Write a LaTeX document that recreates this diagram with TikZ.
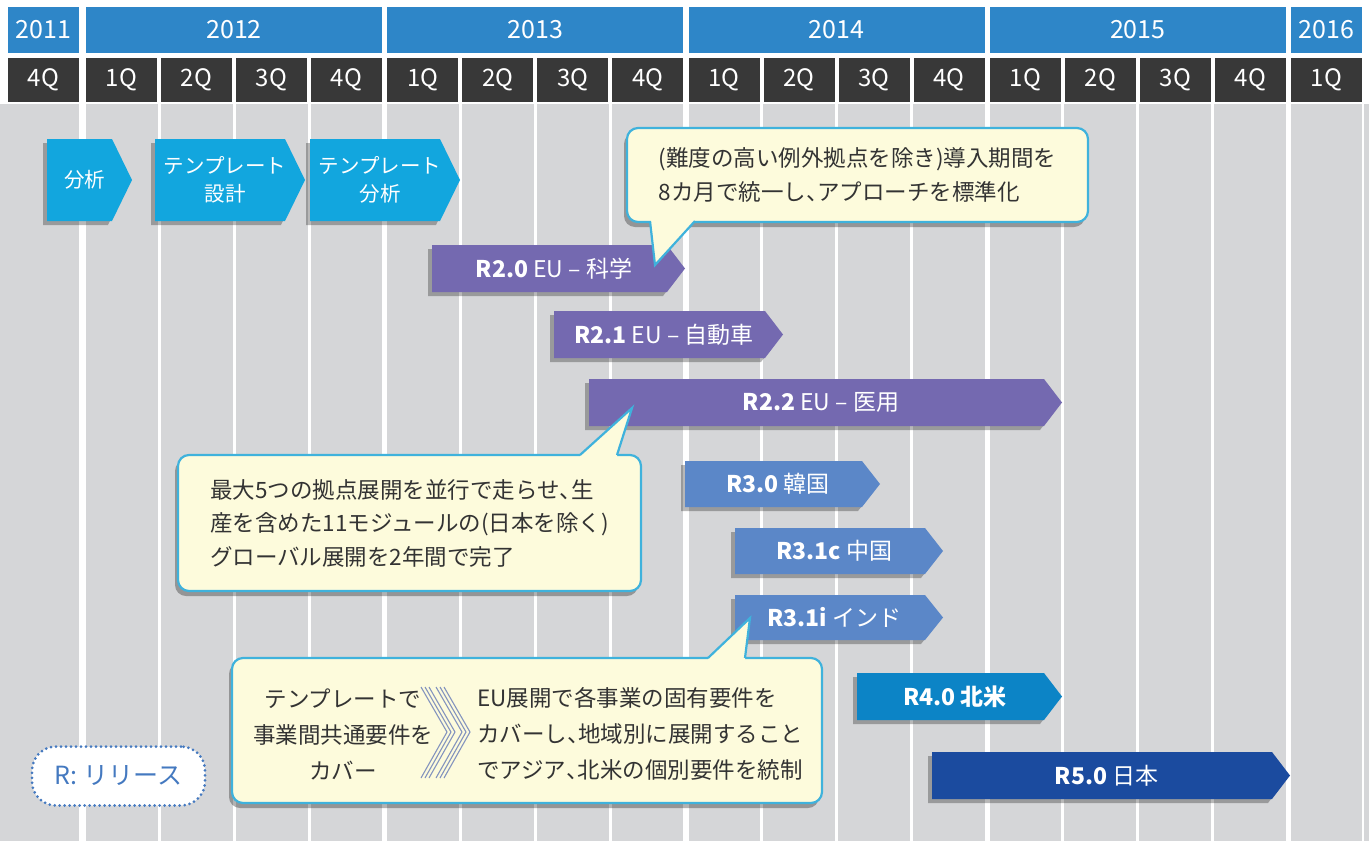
\documentclass[tikz,border=0pt]{standalone}
\usepackage{fontspec}
\setmainfont{Noto Sans CJK JP}
\usetikzlibrary{shadows}
\definecolor{yearblue}{HTML}{2E86C8}
\definecolor{qdark}{HTML}{383838}
\definecolor{bggray}{HTML}{D5D6D8}
\definecolor{cyanarr}{HTML}{12A6DE}
\definecolor{purparr}{HTML}{7469B0}
\definecolor{bluearr}{HTML}{5B87C8}
\definecolor{naarr}{HTML}{0C84C6}
\definecolor{jparr}{HTML}{1B4B9F}
\definecolor{cfill}{HTML}{FDFBDC}
\definecolor{cborder}{HTML}{3FB2DC}
\definecolor{ctext}{HTML}{333333}
\definecolor{legblue}{HTML}{4479C0}
\definecolor{chevline}{HTML}{8494BE}

\newcommand\halfcomma{{\addfontfeature{RawFeature=+halt}、}}

\newcommand\chevbox[9]{%
  \fill[#7, drop shadow={shadow xshift=-4pt, shadow yshift=-4pt, opacity=0.28, fill=black}]
    (#2,#4) -- ({#3-#6},#4) -- (#3,{(#4+#5)/2}) -- ({#3-#6},#5) -- (#2,#5) -- cycle;
  \node[#9] (#1) at ({(#2+#3)/2-#6/4},{(#4+#5)/2}) {#8};
}

\begin{document}
\begin{tikzpicture}[x=1pt,y=-1pt,
  yearbox/.style={fill=yearblue, text=white, minimum height=46pt, inner sep=0pt,
    font=\fontsize{25}{28}\selectfont},
  qbox/.style={fill=qdark, text=white, minimum height=44pt, minimum width=71pt, inner sep=0pt,
    font=\fontsize{24}{27}\selectfont},
  arrtext/.style={text=white, align=center, inner sep=0pt,
    font=\fontsize{23}{27}\selectfont},
  phasetext/.style={text=white, align=center, inner sep=0pt,
    font=\fontsize{20.5}{28}\selectfont},
  callout/.style={fill=cfill, draw=cborder, line width=2.2pt, rounded corners=11pt,
    text=ctext, align=left, inner sep=0pt, font=\fontsize{22.5}{33.5}\selectfont,
    drop shadow={shadow xshift=-3pt, shadow yshift=-5pt, opacity=0.3, fill=black}},
  ptrfill/.style={fill=cfill},
  ptrline/.style={draw=cborder, line width=2.2pt, line join=miter},
  ctxt/.style={text=ctext, inner sep=0pt, font=\fontsize{22.5}{36}\selectfont},
  legend/.style={fill=white, draw=legblue, line width=3pt, dash pattern=on 0pt off 5pt,
    line cap=round, rounded corners=24pt, minimum width=173pt, minimum height=59pt,
    text=legblue, font=\fontsize{25}{28}\selectfont},
  sep/.style={fill=white}
]
\useasboundingbox (0,0) rectangle (1369,841);
\fill[white] (0,0) rectangle (1369,841);
\fill[bggray] (0,104) rectangle (1369,841);

% separators in the gray area
\fill[sep] (79,104) rectangle (86,841);
\foreach \k in {0,1,2,3} {
  \foreach \q in {0,1,2} {
    \fill[sep] ({86+301.25*\k+75*\q+71.5},104) rectangle ({86+301.25*\k+75*\q+74.5},841);
  }
  \fill[sep] ({86+301.25*\k+296},104) rectangle ({86+301.25*\k+301.25},841);
}
\fill[sep] (1362,104) rectangle (1364,841);

% header
\node[yearbox, minimum width=71pt] (y2011) at (43.5,30) {2011};
\foreach \yr [count=\k from 0] in {2012,2013,2014,2015} {
  \node[yearbox, minimum width=296pt] (y\yr) at ({86+301.25*\k+148},30) {\yr};
  \foreach \q [count=\n from 1] in {0,1,2,3} {
    \node[qbox] (q\yr-\n) at ({86+301.25*\k+75*\q+35.5},80) {\n Q};
  }
}
\node[yearbox, minimum width=71pt] (y2016) at (1326.5,30) {2016};
\node[qbox] (q2011-4) at (43.5,80) {4Q};
\node[qbox] (q2016-1) at (1326.5,80) {1Q};

% phase arrows
\chevbox{a1}{47}{132}{139}{221}{20}{cyanarr}{分析}{phasetext}
\chevbox{a2}{155}{305}{139}{221}{20}{cyanarr}{テンプレート\\設計}{phasetext}
\chevbox{a3}{310}{460}{139}{221}{20}{cyanarr}{テンプレート\\分析}{phasetext}

% releases
\chevbox{r20}{432}{685}{245}{292}{18}{purparr}{\textbf{R2.0} EU – 科学}{arrtext}
\chevbox{r21}{554}{783}{311}{358}{18}{purparr}{\textbf{R2.1} EU – 自動車}{arrtext}
\chevbox{r22}{589}{1062}{379}{426}{18}{purparr}{\textbf{R2.2} EU – 医用}{arrtext}
\chevbox{r30}{685}{880}{461}{507}{18}{bluearr}{\textbf{R3.0} 韓国}{arrtext}
\chevbox{r31c}{735}{943}{528}{574}{18}{bluearr}{\textbf{R3.1c} 中国}{arrtext}
\chevbox{r31i}{735}{943}{595}{640}{18}{bluearr}{\textbf{R3.1i} インド}{arrtext}
\chevbox{r40}{857}{1062}{673}{720}{18}{naarr}{\textbf{R4.0 北米}}{arrtext}
\chevbox{r50}{932}{1290}{752}{799}{18}{jparr}{\textbf{R5.0} 日本}{arrtext}

% legend
\node[legend] (leg) at (118.5,776) {R: リリース};

% callout 1
\node[callout, minimum width=461pt, minimum height=94pt] (c1) at (857.5,175)
  {(難度の高い例外拠点を除き)導入期間を\\8カ月で統一し\halfcomma アプローチを標準化};
\coordinate (t1) at (655,265);
\fill[ptrfill] (650,216) -- (650,221) -- (t1) -- (695,221) -- (695,216) -- cycle;
\draw[ptrline] (650,221) -- (t1) -- (695,221);

% callout 2
\node[callout, minimum width=463pt, minimum height=136pt] (c2) at (409.5,523)
  {最大5つの拠点展開を並行で走らせ\halfcomma 生\\産を含めた11モジュールの(日本を除く)\\グローバル展開を2年間で完了};
\coordinate (t2) at (632,408);
\fill[ptrfill] (580,460) -- (580,455) -- (t2) -- (617,455) -- (617,460) -- cycle;
\draw[ptrline] (580,455) -- (t2) -- (617,455);

% callout 3
\node[callout, minimum width=590pt, minimum height=145pt] (c3) at (527,730.5) {};
\coordinate (t3) at (750,618);
\fill[ptrfill] (708,663) -- (708,658) -- (t3) -- (745,658) -- (745,663) -- cycle;
\draw[ptrline] (708,658) -- (t3) -- (745,658);
\node[ctxt, align=center] (c3l) at (343,734) {テンプレートで\\事業間共通要件を\\カバー};
\node[ctxt, align=left, anchor=west] (c3r) at (477,734)
  {EU展開で各事業の固有要件を\\カバーし\halfcomma 地域別に展開すること\\でアジア\halfcomma 北米の個別要件を統制};
\foreach \c in {0,15} {
  \foreach \l in {0,4,8} {
    \draw[chevline, line width=1.1pt] ({421+\c+\l},687) -- ({447+\c+\l},732) -- ({421+\c+\l},778);
  }
}
\end{tikzpicture}
\end{document}
